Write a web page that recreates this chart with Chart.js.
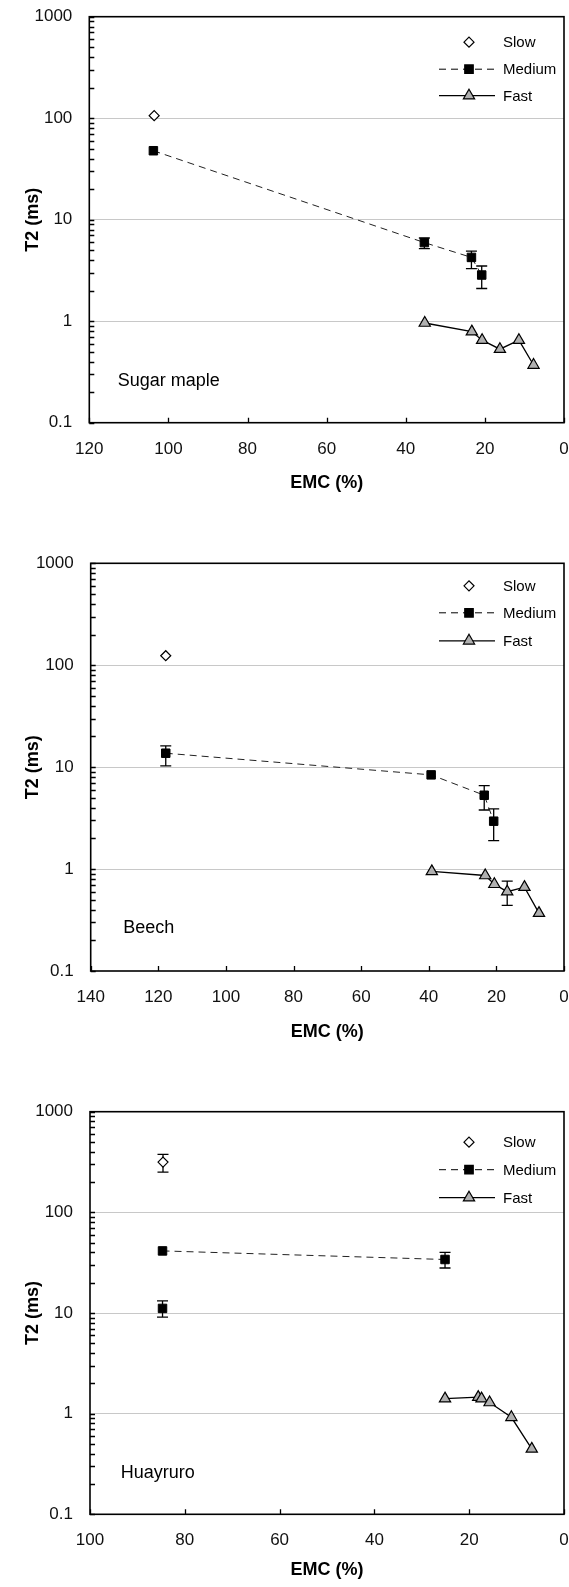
<!DOCTYPE html>
<html>
<head>
<meta charset="utf-8">
<script src="https://cdn.jsdelivr.net/npm/chart.js@4.4.0/dist/chart.umd.min.js"></script>
<style>
body { margin: 0; background: #fff; width: 569px; height: 1587px; position: relative; overflow: hidden; }
.panel { position: absolute; left: 0; width: 569px; }
</style>
</head>
<body>
<div class="panel" style="top:0px"><canvas id="c1" width="569" height="500"></canvas></div>
<div class="panel" style="top:530px"><canvas id="c2" width="569" height="519"></canvas></div>
<div class="panel" style="top:1070px"><canvas id="c3" width="569" height="517"></canvas></div>
<script>
// ---- data ----
const seriesNames = ['Slow', 'Medium', 'Fast'];
const yDecades = [0.1, 1, 10, 100, 1000];
const xTickStep = 20;

// Sugar maple
const mapleSlowX = [103.6];
const mapleSlowY = [106];
const mapleMedX = [103.8, 35.3, 23.4, 20.8];
const mapleMedY = [47.8, 5.95, 4.25, 2.85];
const mapleMedLo = [null, 5.2, 3.3, 2.1];
const mapleMedHi = [null, 6.6, 4.9, 3.5];
const mapleFastX = [35.2, 23.3, 20.7, 16.2, 11.4, 7.7];
const mapleFastY = [0.96, 0.79, 0.65, 0.53, 0.65, 0.37];

// Beech
const beechSlowX = [117.8];
const beechSlowY = [124];
const beechMedX = [117.8, 39.3, 23.6, 20.8];
const beechMedY = [13.7, 8.4, 5.3, 2.95];
const beechMedLo = [10.3, null, 3.8, 1.9];
const beechMedHi = [16.2, null, 6.6, 3.9];
const beechFastX = [39.1, 23.3, 20.6, 16.8, 11.7, 7.4];
const beechFastY = [0.95, 0.865, 0.71, 0.6, 0.665, 0.37];
const beechFastLo = [null, null, null, 0.44, null, null];
const beechFastHi = [null, null, null, 0.76, null, null];

// Huayruro
const huaySlowX = [84.6];
const huaySlowY = [316];
const huaySlowLo = [251];
const huaySlowHi = [376];
const huayMedX = [84.7, 25.1];
const huayMedY = [41.4, 34];
const huayMedLo = [null, 28];
const huayMedHi = [null, 40];
const huayMed2X = [84.7];
const huayMed2Y = [11.1];
const huayMed2Lo = [9.1];
const huayMed2Hi = [13.2];
const huayFastX = [25.1, 18.1, 17.4, 15.7, 11.1, 6.8];
const huayFastY = [1.41, 1.46, 1.41, 1.29, 0.92, 0.447];

// ---- styles ----
const FONT = "'Liberation Sans', Arial, sans-serif";
const TRI_FILL = '#b0b0b0';
const R_DIAMOND = 5, R_SQUARE = 6, R_TRI = 6.5;

function pts(xs, ys) {
    return xs.map((x, i) => ({ x: x, y: ys[i] }));
}

function slowSet(xs, ys, lo, hi) {
    return {
        label: seriesNames[0], data: pts(xs, ys), showLine: false,
        pointStyle: 'rectRot', pointRadius: R_DIAMOND, pointBackgroundColor: '#fff',
        pointBorderColor: '#000', pointBorderWidth: 1.2, errLo: lo, errHi: hi
    };
}

function medSet(xs, ys, lo, hi, line) {
    return {
        label: seriesNames[1], data: pts(xs, ys), showLine: line,
        borderColor: '#222', borderWidth: 1, borderDash: [7, 5],
        pointStyle: 'rect', pointRadius: R_SQUARE, pointBackgroundColor: '#000',
        pointBorderColor: '#000', pointBorderWidth: 1, errLo: lo, errHi: hi
    };
}

function fastSet(xs, ys, lo, hi) {
    return {
        label: seriesNames[2], data: pts(xs, ys), showLine: true,
        borderColor: '#000', borderWidth: 1.3,
        pointStyle: 'triangle', pointRadius: R_TRI, pointBackgroundColor: TRI_FILL,
        pointBorderColor: '#000', pointBorderWidth: 1.2, errLo: lo, errHi: hi
    };
}

function drawMarker(ctx, kind, x, y) {
    ctx.save();
    ctx.setLineDash([]);
    ctx.lineWidth = 1.2;
    ctx.strokeStyle = '#000';
    ctx.beginPath();
    if (kind === 0) {
        const r = R_DIAMOND;
        ctx.moveTo(x - r, y); ctx.lineTo(x, y - r); ctx.lineTo(x + r, y); ctx.lineTo(x, y + r);
        ctx.closePath();
        ctx.fillStyle = '#fff';
    } else if (kind === 1) {
        const s = R_SQUARE * Math.SQRT1_2;
        ctx.rect(x - s, y - s, 2 * s, 2 * s);
        ctx.fillStyle = '#000';
    } else {
        const r = R_TRI;
        ctx.moveTo(x, y - r);
        ctx.lineTo(x + r * Math.sin(Math.PI * 2 / 3), y - r * Math.cos(Math.PI * 2 / 3));
        ctx.lineTo(x + r * Math.sin(Math.PI * 4 / 3), y - r * Math.cos(Math.PI * 4 / 3));
        ctx.closePath();
        ctx.fillStyle = TRI_FILL;
    }
    ctx.fill();
    ctx.stroke();
    ctx.restore();
}

const decorPlugin = {
    id: 'decor',
    beforeDatasetsDraw(chart) {
        // error bars
        const ctx = chart.ctx;
        const xs = chart.scales.x, ys = chart.scales.y;
        ctx.save();
        ctx.strokeStyle = '#000';
        ctx.lineWidth = 1.3;
        chart.data.datasets.forEach(ds => {
            if (!ds.errLo) return;
            ds.data.forEach((p, i) => {
                if (ds.errLo[i] == null) return;
                const px = xs.getPixelForValue(p.x);
                const y1 = ys.getPixelForValue(ds.errLo[i]);
                const y2 = ys.getPixelForValue(ds.errHi[i]);
                ctx.beginPath();
                ctx.moveTo(px, y1); ctx.lineTo(px, y2);
                ctx.moveTo(px - 5.5, y1); ctx.lineTo(px + 5.5, y1);
                ctx.moveTo(px - 5.5, y2); ctx.lineTo(px + 5.5, y2);
                ctx.stroke();
            });
        });
        ctx.restore();
    },
    afterDraw(chart, args, opts) {
        const ctx = chart.ctx;
        const a = chart.chartArea;
        const xs = chart.scales.x, ys = chart.scales.y;
        ctx.save();
        // inward ticks
        ctx.strokeStyle = '#000';
        ctx.lineWidth = 1.3;
        ctx.beginPath();
        ys.ticks.forEach(t => {
            const py = Math.round(ys.getPixelForValue(t.value)) + 0.5;
            ctx.moveTo(a.left, py); ctx.lineTo(a.left + 5, py);
        });
        xs.ticks.forEach(t => {
            const px = Math.round(xs.getPixelForValue(t.value)) + 0.5;
            ctx.moveTo(px, a.bottom); ctx.lineTo(px, a.bottom - 5);
        });
        ctx.stroke();
        // frame
        ctx.lineWidth = 1.6;
        ctx.strokeRect(a.left, a.top, a.right - a.left, a.bottom - a.top);

        // legend
        ctx.font = '15px ' + FONT;
        ctx.textBaseline = 'middle';
        ctx.fillStyle = '#000';
        opts.legendRows.forEach((dy, k) => {
            const y = a.top + dy;
            const mx = a.right - 95;
            if (k > 0) {
                ctx.beginPath();
                ctx.lineWidth = k === 1 ? 1 : 1.3;
                ctx.setLineDash(k === 1 ? [7, 5] : []);
                ctx.moveTo(a.right - 125, y); ctx.lineTo(a.right - 69, y);
                ctx.stroke();
                ctx.setLineDash([]);
            }
            drawMarker(ctx, k, mx, y);
            ctx.fillStyle = '#000';
            ctx.fillText(seriesNames[k], a.right - 61, y + 1);
        });

        // species name
        ctx.font = '18px ' + FONT;
        ctx.fillText(opts.name, opts.nameX, opts.nameY);
        ctx.restore();
    }
};

function yTickValues() {
    const vals = [];
    for (let d = 0; d < yDecades.length - 1; d++) {
        for (let m = 1; m < 10; m++) vals.push(+(yDecades[d] * m).toPrecision(3));
    }
    vals.push(yDecades[yDecades.length - 1]);
    return vals;
}

function makeChart(id, cfg) {
    const canvas = document.getElementById(id);
    return new Chart(canvas, {
        type: 'scatter',
        data: { datasets: cfg.datasets },
        plugins: [decorPlugin],
        options: {
            responsive: false,
            animation: false,
            layout: { autoPadding: false, padding: { top: cfg.padTop, right: 5, bottom: 0, left: 0 } },
            elements: { line: { tension: 0 } },
            plugins: {
                legend: { display: false },
                tooltip: { enabled: false },
                decor: { legendRows: cfg.legendRows, name: cfg.name, nameX: cfg.nameX, nameY: cfg.nameY }
            },
            scales: {
                x: {
                    type: 'linear', reverse: true, min: 0, max: cfg.xMax,
                    afterFit: s => {
                        s.height = canvas.height - cfg.bottom;
                        s.paddingLeft = 0; s.paddingRight = 0;
                    },
                    grid: { display: false, drawTicks: false },
                    border: { display: false },
                    ticks: { stepSize: xTickStep, padding: 16, color: '#111', font: { family: FONT, size: 17 } },
                    title: { display: true, text: 'EMC (%)', color: '#000', padding: { top: 0, bottom: 6 },
                             font: { family: FONT, size: 18, weight: 'bold' } }
                },
                y: {
                    type: 'logarithmic', min: 0.1, max: 1000,
                    afterFit: s => {
                        s.width = cfg.left;
                        s.paddingTop = 0; s.paddingBottom = 0;
                    },
                    afterBuildTicks: s => { s.ticks = yTickValues().map(v => ({ value: v })); },
                    grid: {
                        drawTicks: false,
                        color: c => ([1, 10, 100].includes(c.tick.value) ? '#c8c8c8' : 'rgba(0,0,0,0)'),
                        lineWidth: 1
                    },
                    border: { display: false },
                    ticks: {
                        autoSkip: false, padding: 17, color: '#111', font: { family: FONT, size: 17 },
                        callback: v => (yDecades.includes(v) ? String(v) : '')
                    },
                    title: { display: true, text: 'T2 (ms)', color: '#000', padding: { top: 22, bottom: 0 },
                             font: { family: FONT, size: 18, weight: 'bold' } }
                }
            }
        }
    });
}

makeChart('c1', {
    padTop: 16.7, bottom: 422.7, left: 89.3, xMax: 120,
    legendRows: [25.5, 52.5, 79], name: 'Sugar maple', nameX: 117.7, nameY: 381,
    datasets: [
        slowSet(mapleSlowX, mapleSlowY, null, null),
        medSet(mapleMedX, mapleMedY, mapleMedLo, mapleMedHi, true),
        fastSet(mapleFastX, mapleFastY, null, null)
    ]
});

makeChart('c2', {
    padTop: 33.3, bottom: 441, left: 90.7, xMax: 140,
    legendRows: [22.5, 49.5, 77.5], name: 'Beech', nameX: 123.3, nameY: 398.3,
    datasets: [
        slowSet(beechSlowX, beechSlowY, null, null),
        medSet(beechMedX, beechMedY, beechMedLo, beechMedHi, true),
        fastSet(beechFastX, beechFastY, beechFastLo, beechFastHi)
    ]
});

makeChart('c3', {
    padTop: 41.7, bottom: 444.3, left: 90, xMax: 100,
    legendRows: [30.5, 58, 86], name: 'Huayruro', nameX: 120.7, nameY: 403.3,
    datasets: [
        slowSet(huaySlowX, huaySlowY, huaySlowLo, huaySlowHi),
        medSet(huayMedX, huayMedY, huayMedLo, huayMedHi, true),
        fastSet(huayFastX, huayFastY, null, null),
        medSet(huayMed2X, huayMed2Y, huayMed2Lo, huayMed2Hi, false)
    ]
});
</script>
</body>
</html>
